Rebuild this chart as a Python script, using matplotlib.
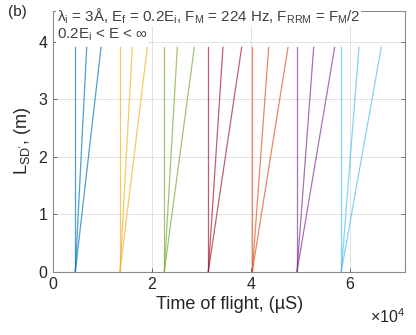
import matplotlib
matplotlib.use("Agg")
import matplotlib.pyplot as plt
from matplotlib.ticker import FuncFormatter

plt.rcParams['font.family'] = ['Liberation Sans', 'DejaVu Sans']
plt.rcParams['mathtext.fontset'] = 'custom'
plt.rcParams['mathtext.rm'] = 'Liberation Sans'
plt.rcParams['mathtext.it'] = 'Liberation Sans:italic'

# Data (time in microseconds, distance in m)
L_end = 3.9
t_start = [4560, 13580, 22520, 31400, 40280, 49300, 58240]
t_fast = [4560, 13580, 22520, 31400, 40280, 49300, 58240]   # E -> infinity
t_mid = [6860, 16065, 25150, 34370, 43590, 52670, 61820]    # E = Ei
t_slow = [9750, 19090, 28580, 38140, 47490, 56910, 66320]   # E = 0.2 Ei
colors = ['#0072BD', '#EDB120', '#77AC30', '#A2142F', '#D95319', '#7E2F8E', '#4DBEEE']
xticks = [0, 20000, 40000, 60000]
yticks = [0, 1, 2, 3, 4]

fig = plt.figure(figsize=(4.16, 3.35), dpi=100)
ax = fig.add_axes([0.1267, 0.189, 0.848, 0.778])

for t0, ta, tb, tc, c in zip(t_start, t_fast, t_mid, t_slow, colors):
    for te in (ta, tb, tc):
        ax.plot([t0, te], [0, L_end], color=c, lw=0.9, alpha=0.68)

ax.set_xlim(0, 71200)
ax.set_ylim(0, 4.53)
ax.set_xticks(xticks)
ax.set_yticks(yticks)
ax.xaxis.set_major_formatter(FuncFormatter(lambda v, p: f"{v/1e4:g}"))
ax.grid(True, color='#dcdcdc', lw=0.6)
ax.set_axisbelow(True)
ax.tick_params(direction='in', length=3, width=0.6, color='#555555',
               labelsize=11.5, labelcolor='#262626', top=True, right=True, pad=4)
for s in ax.spines.values():
    s.set_color('#8a8a8a')
    s.set_linewidth(0.8)

ax.set_xlabel('Time of flight, (µS)', fontsize=13, color='#262626', labelpad=3)
ax.set_ylabel("L$_{\\mathregular{SD'}}$, (m)", fontsize=13, color='#262626', labelpad=4)

ax.text(1.0, -0.138, r'$\times$10$^{4}$', transform=ax.transAxes, ha='right', va='top',
        fontsize=11.5, color='#262626')

fig.text(0.02, 0.985, '(b)', ha='left', va='top', fontsize=11, color='#262626')

ax.text(0.012, 0.8952, r'0.2E$_\mathregular{i}$ < E < ∞',
        transform=ax.transAxes, ha='left', va='baseline', fontsize=10.9, color='#404040',
        bbox=dict(facecolor='white', edgecolor='none', pad=0.3), zorder=5)
ax.text(0.012, 0.9597, r'λ$_\mathregular{i}$ = 3Å, E$_\mathregular{f}$ = 0.2E$_\mathregular{i}$, F$_\mathregular{M}$ = 224 Hz, F$_\mathregular{RRM}$ = F$_\mathregular{M}$/2',
        transform=ax.transAxes, ha='left', va='baseline', fontsize=10.9, color='#404040',
        bbox=dict(facecolor='white', edgecolor='none', pad=0.3), zorder=6)

fig.savefig('out.png', dpi=100)
